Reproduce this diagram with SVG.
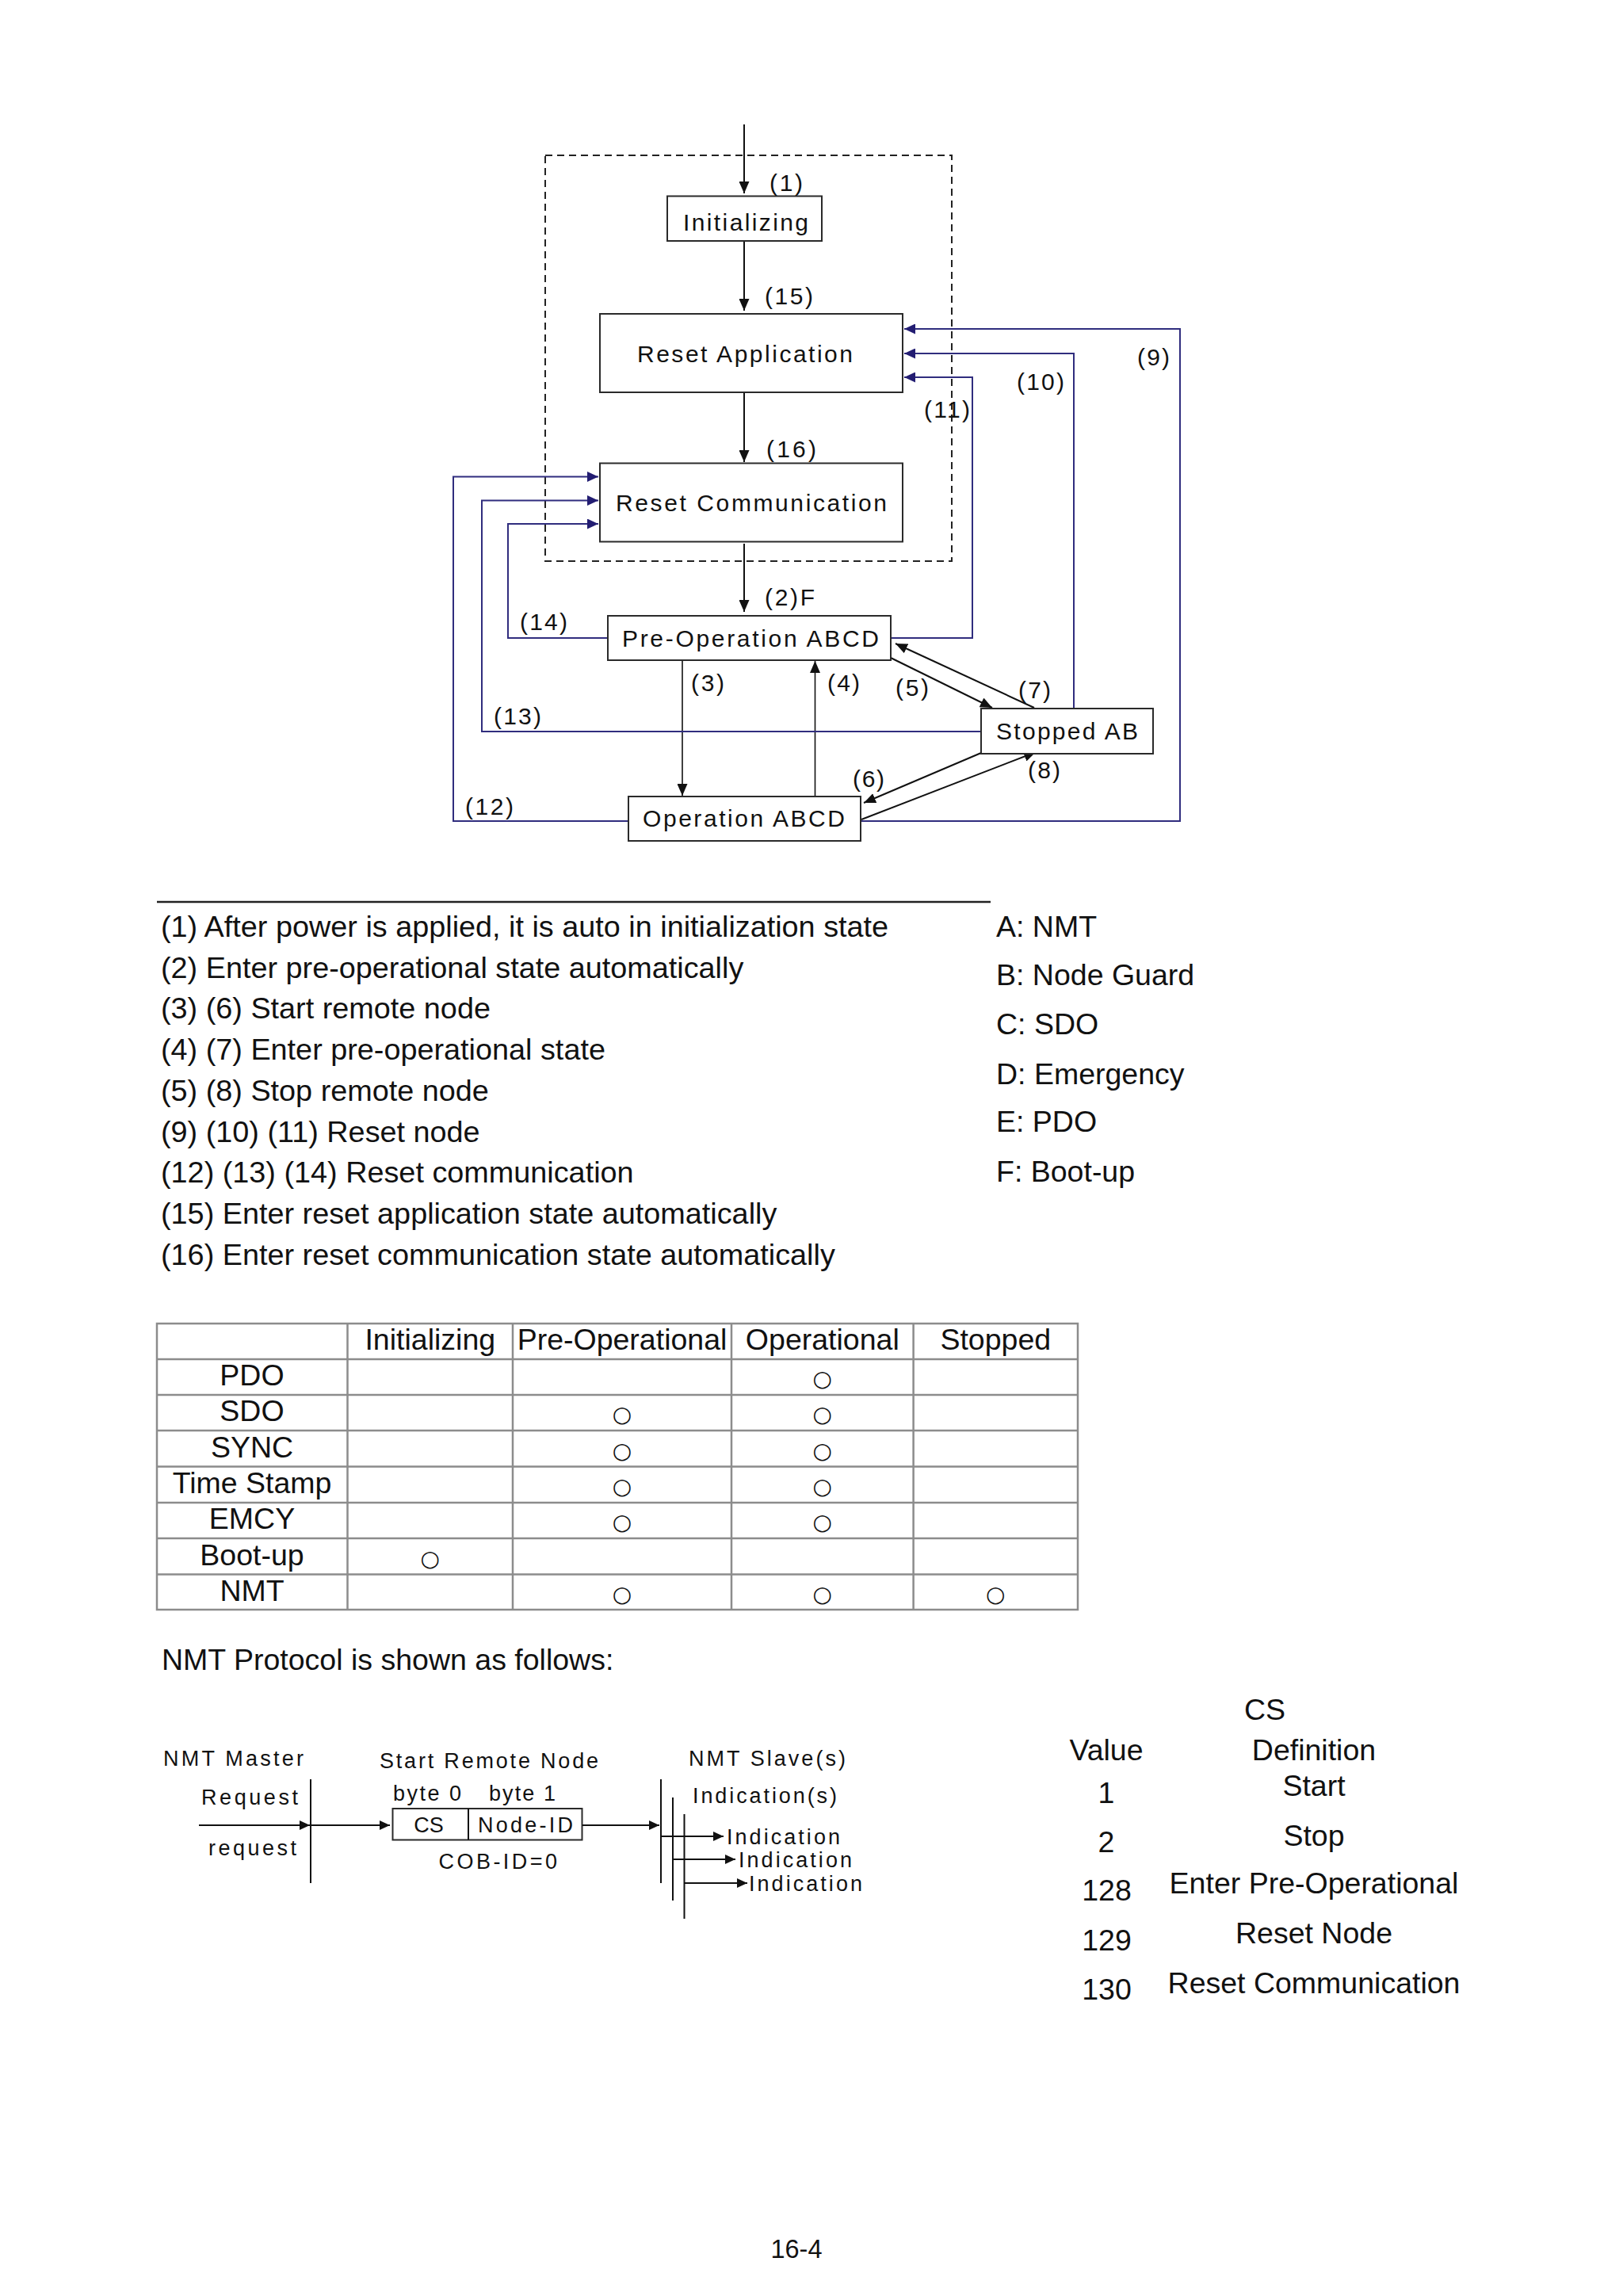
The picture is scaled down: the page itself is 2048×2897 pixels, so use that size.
<svg xmlns="http://www.w3.org/2000/svg" width="2048" height="2897" viewBox="0 0 2048 2897">
<style>
text{font-family:"Liberation Sans",Arial,sans-serif;fill:#111}
.d{font-size:30px}
.t{font-size:37.5px}
.l{font-size:37.8px}
.s{font-size:27px}
.c{text-anchor:middle}
.box{fill:#fff;stroke:#2a2a2a;stroke-width:2}
.blk{fill:none;stroke:#111;stroke-width:2}
.thin{fill:none;stroke:#111;stroke-width:1.6}
.blu{fill:none;stroke:#302d7e;stroke-width:2}
.dash{fill:none;stroke:#222;stroke-width:2;stroke-dasharray:9 6}
.grid{fill:none;stroke:#8c8c8c;stroke-width:2.5}
text.o{font-family:"DejaVu Sans",sans-serif;font-size:28px;text-anchor:middle}
</style>
<defs>
<marker id="ab" markerUnits="userSpaceOnUse" markerWidth="15" markerHeight="13" refX="15" refY="6.5" orient="auto"><path d="M0,0 L15,6.5 L0,13 z" fill="#111"/></marker>
<marker id="au" markerUnits="userSpaceOnUse" markerWidth="14" markerHeight="13" refX="14" refY="6.5" orient="auto"><path d="M0,0 L14,6.5 L0,13 z" fill="#231d72"/></marker>
<marker id="as" markerUnits="userSpaceOnUse" markerWidth="13" markerHeight="12" refX="13" refY="6" orient="auto"><path d="M0,0 L13,6 L0,12 z" fill="#111"/></marker>
</defs>
<rect width="2048" height="2897" fill="#fff"/>

<!-- state diagram -->
<rect id="boundary" class="dash" x="688" y="196" width="513" height="512"/>

<g id="connectors">
<path class="blk" d="M939,157 V244" marker-end="url(#ab)"/>
<path class="blk" d="M939,304 V392" marker-end="url(#ab)"/>
<path class="blk" d="M939,495 V583" marker-end="url(#ab)"/>
<path class="blk" d="M939,686 V772" marker-end="url(#ab)"/>
<path class="thin" d="M861,834 V1004" marker-end="url(#ab)"/>
<path class="thin" d="M1028.5,1005 V834" marker-end="url(#ab)"/>
<path class="blk" d="M1124,830 L1252,893" marker-end="url(#ab)"/>
<path class="blk" d="M1305,893 L1130,812" marker-end="url(#ab)"/>
<path class="blk" d="M1238,950 L1090,1013" marker-end="url(#ab)"/>
<path class="blk" d="M1087,1034 L1307,949" marker-end="url(#ab)"/>
<path class="blu" d="M1086,1036 H1489 V415 H1141" marker-end="url(#au)"/>
<path class="blu" d="M1355,894 V446 H1141" marker-end="url(#au)"/>
<path class="blu" d="M1124,805 H1227 V476 H1141" marker-end="url(#au)"/>
<path class="blu" d="M793,1036 H572 V601.5 H755" marker-end="url(#au)"/>
<path class="blu" d="M1238,923 H608 V631.5 H755" marker-end="url(#au)"/>
<path class="blu" d="M767,805 H641 V661 H755" marker-end="url(#au)"/>
</g>

<g id="connector-labels" class="d">
<text x="971" y="241" textLength="42">(1)</text>
<text x="965" y="384" textLength="61">(15)</text>
<text x="967" y="577" textLength="63">(16)</text>
<text x="965" y="764" textLength="63">(2)F</text>
<text x="1166" y="527" textLength="58">(11)</text>
<text x="1283" y="492" textLength="60">(10)</text>
<text x="1435" y="461" textLength="41">(9)</text>
<text x="656" y="795" textLength="60">(14)</text>
<text x="623" y="914" textLength="60">(13)</text>
<text x="587" y="1028" textLength="61">(12)</text>
<text x="872" y="872" textLength="42">(3)</text>
<text x="1044" y="872" textLength="41">(4)</text>
<text x="1130" y="878" textLength="42">(5)</text>
<text x="1285" y="881" textLength="41">(7)</text>
<text x="1076" y="993" textLength="40">(6)</text>
<text x="1297" y="982" textLength="41">(8)</text>
</g>

<g id="n-initializing"><rect class="box" x="842" y="247.5" width="195" height="56.5"/><text class="d" x="862" y="291" textLength="158">Initializing</text></g>
<g id="n-reset-app"><rect class="box" x="757" y="396" width="382" height="99"/><text class="d" x="804" y="457" textLength="272">Reset Application</text></g>
<g id="n-reset-comm"><rect class="box" x="757" y="584.5" width="382" height="99"/><text class="d" x="777" y="645" textLength="342">Reset Communication</text></g>
<g id="n-preop"><rect class="box" x="767" y="777" width="357" height="56"/><text class="d" x="785" y="816" textLength="324">Pre-Operation ABCD</text></g>
<g id="n-stopped"><rect class="box" x="1238" y="894" width="217" height="57"/><text class="d" x="1257" y="933" textLength="179">Stopped AB</text></g>
<g id="n-operation"><rect class="box" x="793" y="1005" width="293" height="56"/><text class="d" x="811" y="1043" textLength="255">Operation ABCD</text></g>

<!-- legend -->
<path d="M198,1138 H1250" stroke="#222" stroke-width="2.5"/>
<g id="legend" class="l">
<text x="203" y="1182">(1) After power is applied, it is auto in initialization state</text>
<text x="203" y="1234">(2) Enter pre-operational state automatically</text>
<text x="203" y="1285">(3) (6) Start remote node</text>
<text x="203" y="1337">(4) (7) Enter pre-operational state</text>
<text x="203" y="1389">(5) (8) Stop remote node</text>
<text x="203" y="1441">(9) (10) (11) Reset node</text>
<text x="203" y="1492">(12) (13) (14) Reset communication</text>
<text x="203" y="1544">(15) Enter reset application state automatically</text>
<text x="203" y="1596">(16) Enter reset communication state automatically</text>
</g>
<g id="legend-abbrev" class="t">
<text x="1257" y="1182">A: NMT</text>
<text x="1257" y="1243">B: Node Guard</text>
<text x="1257" y="1305">C: SDO</text>
<text x="1257" y="1368">D: Emergency</text>
<text x="1257" y="1428">E: PDO</text>
<text x="1257" y="1491">F: Boot-up</text>
</g>

<!-- table -->
<g id="table">
<rect class="grid" x="198" y="1670" width="1162" height="361"/>
<path class="grid" d="M198,1715 H1360 M198,1760 H1360 M198,1805 H1360 M198,1850.5 H1360 M198,1896 H1360 M198,1941 H1360 M198,1986.5 H1360 M438.5,1670 V2031 M647,1670 V2031 M923,1670 V2031 M1152.6,1670 V2031"/>
<g class="t c">
<text x="542.8" y="1703">Initializing</text>
<text x="785" y="1703">Pre-Operational</text>
<text x="1037.8" y="1703">Operational</text>
<text x="1256.3" y="1703">Stopped</text>
<text x="318" y="1748">PDO</text>
<text x="318" y="1793">SDO</text>
<text x="318" y="1838.5">SYNC</text>
<text x="318" y="1883.5">Time Stamp</text>
<text x="318" y="1929">EMCY</text>
<text x="318" y="1974.5">Boot-up</text>
<text x="318" y="2019.5">NMT</text>
</g>
<g>
<text class="o" x="1037.8" y="1749.3">○</text>
<text class="o" x="785" y="1794.3">○</text><text class="o" x="1037.8" y="1794.3">○</text>
<text class="o" x="785" y="1839.8">○</text><text class="o" x="1037.8" y="1839.8">○</text>
<text class="o" x="785" y="1884.8">○</text><text class="o" x="1037.8" y="1884.8">○</text>
<text class="o" x="785" y="1930.3">○</text><text class="o" x="1037.8" y="1930.3">○</text>
<text class="o" x="542.8" y="1975.8">○</text>
<text class="o" x="785" y="2020.8">○</text><text class="o" x="1037.8" y="2020.8">○</text><text class="o" x="1256.3" y="2020.8">○</text>
</g>
</g>

<text class="t" x="204" y="2107">NMT Protocol is shown as follows:</text>

<!-- NMT protocol diagram -->
<g id="nmt-master">
<text class="s" x="206" y="2228" textLength="177">NMT Master</text>
<text class="s" x="254" y="2277" textLength="122">Request</text>
<text class="s" x="263" y="2341" textLength="111">request</text>
<path class="blk" d="M392,2245 V2376"/>
</g>
<g id="nmt-frame">
<text class="s" x="479" y="2231" textLength="276">Start Remote Node</text>
<text class="s" x="496" y="2272" textLength="86">byte 0</text>
<text class="s" x="617" y="2272" textLength="84">byte 1</text>
<rect class="box" x="495.5" y="2282" width="239" height="39.5"/>
<path class="blk" d="M591,2282 V2321.5"/>
<text class="s c" x="541" y="2312">CS</text>
<text class="s" x="603" y="2312" textLength="120">Node-ID</text>
<text class="s" x="553.5" y="2358" textLength="149.5">COB-ID=0</text>
</g>
<g id="nmt-slaves">
<text class="s" x="869" y="2228" textLength="198">NMT Slave(s)</text>
<text class="s" x="874" y="2275" textLength="182">Indication(s)</text>
<path class="blk" d="M834,2245 V2376 M849,2268 V2398 M863.5,2289 V2421"/>
<text class="s" x="917" y="2327" textLength="143">Indication</text>
<text class="s" x="932" y="2356" textLength="143">Indication</text>
<text class="s" x="945" y="2386" textLength="143">Indication</text>
</g>
<g id="nmt-connectors">
<path class="blk" d="M251,2303 H391" marker-end="url(#as)"/>
<path class="blk" d="M392,2303 H492" marker-end="url(#as)"/>
<path class="blk" d="M735,2303 H832" marker-end="url(#as)"/>
<path class="blk" d="M834,2317 H913" marker-end="url(#as)"/>
<path class="blk" d="M849,2346 H928" marker-end="url(#as)"/>
<path class="blk" d="M863.5,2376 H943" marker-end="url(#as)"/>
</g>

<!-- CS table -->
<g id="cs-table" class="t c">
<text x="1596" y="2169.5">CS</text>
<text x="1396" y="2221">Value</text>
<text x="1658" y="2221">Definition</text>
<text x="1396" y="2275">1</text>
<text x="1658" y="2266">Start</text>
<text x="1396" y="2337">2</text>
<text x="1658" y="2329">Stop</text>
<text x="1396.5" y="2398">128</text>
<text x="1658" y="2389">Enter Pre-Operational</text>
<text x="1396.5" y="2461">129</text>
<text x="1658" y="2452">Reset Node</text>
<text x="1396.5" y="2523">130</text>
<text x="1658" y="2515">Reset Communication</text>
</g>

<text x="1005" y="2849" style="font-size:32.5px" class="c">16-4</text>
</svg>
